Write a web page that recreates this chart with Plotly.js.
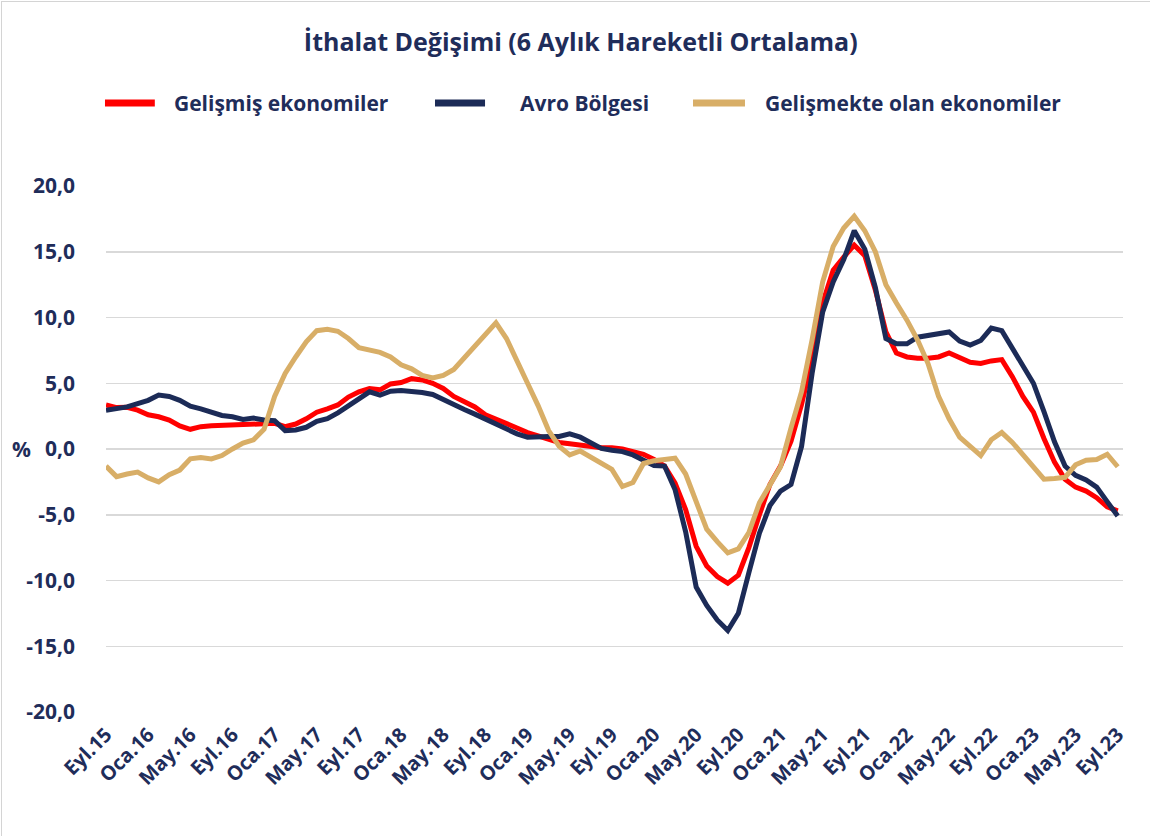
<!DOCTYPE html>
<html><head><meta charset="utf-8">
<script src="https://cdn.plot.ly/plotly-3.0.1.min.js"></script>
<style>html,body{margin:0;padding:0;background:#fff}#wrap{position:relative;width:1150px;height:836px}#chart{width:1150px;height:836px}#frame{position:absolute;left:1px;top:1px;width:1160px;height:900px;border:1px solid #d4d4d4;pointer-events:none}</style>
</head><body><div id="wrap"><div id="chart"></div><div id="frame"></div></div>
<script>
// Turkish month abbreviations used for the category labels
const monthNames = ["Oca","Şub","Mar","Nis","May","Haz","Tem","Ağu","Eyl","Eki","Kas","Ara"];
// Monthly categories from Eyl.15 (Sep 2015) to Eyl.23 (Sep 2023)
const months = [];
for (let k = 0; k < 97; k++) {
  const m = (8 + k) % 12;
  const yr = 15 + Math.floor((8 + k) / 12);
  months.push(monthNames[m] + "." + yr);
}
// Tick labels shown on the axis (every 4th month)
const tickLabels = ["Eyl.15","Oca.16","May.16","Eyl.16","Oca.17","May.17","Eyl.17","Oca.18","May.18","Eyl.18","Oca.19","May.19","Eyl.19","Oca.20","May.20","Eyl.20","Oca.21","May.21","Eyl.21","Oca.22","May.22","Eyl.22","Oca.23","May.23","Eyl.23"];
const yTickVals = [-20, -15, -10, -5, 0, 5, 10, 15, 20];
const yTickLabels = ["-20,0","-15,0","-10,0","-5,0","0,0","5,0","10,0","15,0","20,0"];

const gelismis = [3.35,3.15,3.17,2.95,2.6,2.45,2.2,1.75,1.5,1.7,
  1.77,1.8,1.82,1.93,1.9,2.0,1.95,1.7,1.9,2.3,
  2.8,3.05,3.35,3.95,4.35,4.6,4.5,4.95,5.05,5.35,
  5.25,5.0,4.6,4.0,3.6,3.2,2.6,2.3,2.0,1.6,
  1.25,1.0,0.8,0.5,0.4,0.3,0.2,0.1,0.1,0.0,
  -0.2,-0.4,-0.8,-1.3,-2.6,-4.6,-7.4,-8.9,-9.7,-10.2,
  -9.6,-7.5,-5.0,-2.7,-1.3,0.6,3.4,6.8,11.1,13.6,
  14.6,15.5,14.7,12.1,8.9,7.3,7.0,6.9,6.9,7.0,
  7.3,6.9,6.6,6.5,6.7,6.8,5.5,4.0,2.8,0.8,
  -1.0,-2.3,-2.9,-3.2,-3.7,-4.4,-4.7];

const avro = [2.95,3.1,3.2,3.45,3.7,4.1,4.0,3.7,3.25,3.05,
  2.75,2.55,2.45,2.25,2.35,2.2,2.15,1.4,1.45,1.65,
  2.1,2.3,2.75,3.3,3.85,4.35,4.1,4.4,4.45,4.4,
  4.3,4.15,3.75,3.3,3.0,2.65,2.25,1.9,1.55,1.15,
  0.9,0.95,0.95,0.95,1.15,0.9,0.5,0.05,-0.1,-0.2,
  -0.45,-0.85,-1.25,-1.3,-3.1,-6.3,-10.5,-11.9,-13.0,-13.8,
  -12.5,-9.4,-6.4,-4.3,-3.2,-2.7,0.2,5.75,10.4,12.7,
  14.4,16.6,15.2,12.3,8.4,8.0,8.0,8.5,8.65,8.8,
  8.9,8.2,7.9,8.25,9.2,9.0,7.7,6.3,5.0,2.85,
  0.55,-1.3,-2.0,-2.35,-2.9,-4.0,-5.1];

const gelismekte = [-1.3,-2.1,-1.9,-1.75,-2.2,-2.5,-1.95,-1.6,-0.75,-0.65,
  -0.75,-0.5,0.0,0.45,0.7,1.5,4.0,5.75,7.0,8.15,
  9.0,9.1,8.95,8.4,7.7,7.5,7.35,7.0,6.4,6.1,
  5.6,5.4,5.6,6.05,6.95,7.9,8.8,9.6,8.4,6.8,
  5.0,3.3,1.4,0.2,-0.45,-0.15,-0.65,-1.1,-1.55,-2.85,
  -2.55,-1.1,-0.9,-0.8,-0.7,-1.9,-4.1,-6.1,-7.05,-7.9,
  -7.6,-6.35,-4.1,-2.8,-1.35,1.6,4.36,8.3,12.7,15.4,
  16.8,17.7,16.6,15.0,12.5,11.1,9.8,8.3,6.5,4.0,
  2.3,0.9,0.2,-0.5,0.7,1.25,0.5,-0.45,-1.35,-2.3,
  -2.25,-2.15,-1.2,-0.85,-0.8,-0.4,-1.35];

const seriesNames = ["Gelişmiş ekonomiler","Avro Bölgesi","Gelişmekte olan ekonomiler"];
const seriesColors = ["#ff0000","#1c2b57","#d8ae67"];
const textColor = "#1f2d5a";
const fontFam = "'Open Sans', 'Noto Sans', sans-serif";

const seriesData = [gelismis, avro, gelismekte];
const traces = seriesData.map((ys, k) => ({
  x: months, y: ys, name: seriesNames[k], type: "scatter", mode: "lines",
  line: {color: seriesColors[k], width: 5}, showlegend: false
}));

// Legend drawn as a row above the plot (line key + label)
const legendKeys = [[-0.001, 0.048, 0.065], [0.3235, 0.3727, 0.4051], [0.5772, 0.6283, 0.646]];
const legendY = 1.158;
const shapes = legendKeys.map((p, k) => ({
  type: "line", xref: "paper", yref: "paper", x0: p[0], x1: p[1], y0: legendY, y1: legendY,
  line: {color: seriesColors[k], width: 7}
}));
const annotations = legendKeys.map((p, k) => ({
  text: seriesNames[k], xref: "paper", yref: "paper", x: p[2], y: legendY,
  xanchor: "left", yanchor: "middle", showarrow: false,
  font: {family: fontFam, size: 21, color: textColor, weight: 700}
}));
annotations.push({text: "%", xref: "paper", yref: "y", x: -0.083, y: 0,
  xanchor: "center", yanchor: "middle", showarrow: false,
  font: {family: fontFam, size: 21, color: textColor, weight: 700}});

const layout = {
  width: 1150, height: 836,
  margin: {l: 106, r: 27, t: 186, b: 124},
  paper_bgcolor: "#ffffff", plot_bgcolor: "#ffffff",
  font: {family: fontFam, color: textColor, weight: 700},
  separators: ",.",
  title: {text: "İthalat Değişimi (6 Aylık Hareketli Ortalama)",
    font: {family: fontFam, size: 25, color: textColor, weight: 700},
    x: 0.505, xref: "container", xanchor: "center",
    y: 0.95, yref: "container", yanchor: "middle"},
  showlegend: false,
  xaxis: {type: "category", range: [0, 96.5], showgrid: false, zeroline: false,
    showline: false, ticks: "", tickmode: "array", tickvals: tickLabels, ticktext: tickLabels,
    tickangle: -45, ticklabelstandoff: 6,
    tickfont: {family: fontFam, size: 20, color: textColor, weight: 700}},
  yaxis: {range: [-20, 20], tickmode: "array", tickvals: yTickVals, ticktext: yTickLabels,
    showgrid: true, gridcolor: "#d9d9d9", gridwidth: 1.5, zeroline: false,
    showline: false, ticks: "", ticklabelstandoff: 30,
    tickfont: {family: fontFam, size: 21, color: textColor, weight: 700}},
  shapes: shapes,
  annotations: annotations
};

Plotly.newPlot("chart", traces, layout, {displayModeBar: false, staticPlot: true});
</script></body></html>
